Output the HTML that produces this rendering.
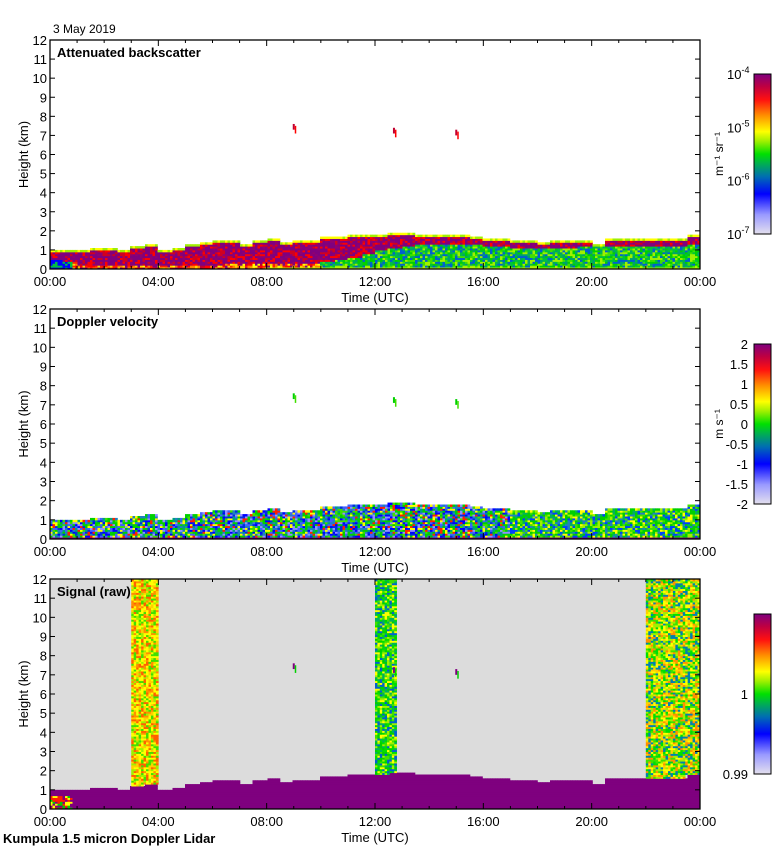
<!DOCTYPE html>
<html><head><meta charset="utf-8">
<style>
html,body{margin:0;padding:0;background:#fff;}
svg{display:block;font-family:"Liberation Sans",sans-serif;}
text{fill:#000;}
</style></head>
<body>
<svg id="chart" width="780" height="850" viewBox="0 0 780 850" xmlns="http://www.w3.org/2000/svg">
<defs>
<linearGradient id="rainbow" x1="0" y1="1" x2="0" y2="0">
<stop offset="0" stop-color="#e4e0ee"/>
<stop offset="0.12" stop-color="#9a9aff"/>
<stop offset="0.25" stop-color="#0000ff"/>
<stop offset="0.36" stop-color="#0070b0"/>
<stop offset="0.44" stop-color="#00b050"/>
<stop offset="0.5" stop-color="#00e000"/>
<stop offset="0.58" stop-color="#a0f000"/>
<stop offset="0.64" stop-color="#ffff00"/>
<stop offset="0.74" stop-color="#ff9000"/>
<stop offset="0.84" stop-color="#ff1010"/>
<stop offset="0.92" stop-color="#c00040"/>
<stop offset="1" stop-color="#7f007f"/>
</linearGradient>
</defs>
<g id="marks"></g>
<g id="axes"></g>
</svg>
<script>
// ---- data (half-hour bins, 00:00 .. 23:30) ----
const hours = [0,0.5,1,1.5,2,2.5,3,3.5,4,4.5,5,5.5,6,6.5,7,7.5,8,8.5,9,9.5,10,10.5,11,11.5,12,12.5,13,13.5,14,14.5,15,15.5,16,16.5,17,17.5,18,18.5,19,19.5,20,20.5,21,21.5,22,22.5,23,23.5];
const cloudTop = [1.0,1.0,1.0,1.1,1.1,1.0,1.2,1.3,1.0,1.1,1.3,1.4,1.5,1.5,1.3,1.5,1.6,1.4,1.5,1.5,1.7,1.7,1.8,1.8,1.8,1.9,1.9,1.8,1.8,1.8,1.8,1.7,1.6,1.6,1.5,1.5,1.4,1.5,1.5,1.5,1.3,1.6,1.6,1.6,1.6,1.6,1.6,1.8];
const denseBase = [0.5,0.4,0.2,0.2,0.2,0.2,0.2,0.2,0.2,0.2,0.2,0.2,0.2,0.3,0.3,0.3,0.3,0.3,0.3,0.3,0.4,0.5,0.6,0.8,1.0,1.1,1.2,1.3,1.3,1.3,1.3,1.3,1.2,1.2,1.1,1.1,1.1,1.1,1.1,1.2,1.3,1.2,1.2,1.2,1.2,1.2,1.2,1.3];
const noiseStart = [3.0,12.0,22.0];
const noiseEnd = [4.0,12.8,24.0];
const elevatedTimes = [9.0,12.7,15.0];
const elevatedHeights = [7.3,7.1,7.0];
const xTicks = ["00:00","04:00","08:00","12:00","16:00","20:00","00:00"];
const yTicks = [0,1,2,3,4,5,6,7,8,9,10,11,12];

const NS="http://www.w3.org/2000/svg";
const marks=document.getElementById('marks'), axes=document.getElementById('axes');
const X0=50, X1=700;
const panels=[{top:40,bot:269},{top:309,bot:539},{top:579,bot:809}];
const xS=h=>X0+h/24*(X1-X0);
const yS=(km,p)=>p.bot-km/12*(p.bot-p.top);
function hash(a,b){let h=(a*374761393+b*668265263)|0;h=(h^(h>>>13))*1274126177|0;return ((h^(h>>>16))>>>0)/4294967296;}
function rect(parent,x,y,w,h,fill,name){const r=document.createElementNS(NS,'rect');r.setAttribute('x',x);r.setAttribute('y',y);r.setAttribute('width',w);r.setAttribute('height',h);r.setAttribute('fill',fill);


parent.appendChild(r);return r;}
function txt(s,x,y,opt){const t=document.createElementNS(NS,'text');t.textContent=s;t.setAttribute('x',x);t.setAttribute('y',y);t.setAttribute('font-size',opt.size||13);if(opt.anchor)t.setAttribute('text-anchor',opt.anchor);if(opt.bold)t.setAttribute('font-weight','bold');if(opt.rot)t.setAttribute('transform',opt.rot);


axes.appendChild(t);return t;}
function line(x1,y1,x2,y2,w){const l=document.createElementNS(NS,'line');l.setAttribute('x1',x1);l.setAttribute('y1',y1);l.setAttribute('x2',x2);l.setAttribute('y2',y2);l.setAttribute('stroke','#000');l.setAttribute('stroke-width',w||1);


axes.appendChild(l);}

const COLS=260, DZ=0.1;
const colW=(X1-X0)/COLS;
const bsDense=['#7f007f','#7f007f','#900070','#d00020','#ff0000','#7f007f'];
const bsLow=['#ff2000','#ff8000','#ffd000','#ff0000','#ffff00','#c00030','#7f007f'];
const bsAer=['#00d000','#40e000','#00a070','#a0f000','#0060d0','#00c040'];
const velCols=['#00d000','#0000ff','#4060ff','#00a080','#9090ff','#00d000','#ffff00','#ff2000','#40e000','#0030e0','#2080c0'];
const velLate=['#00d000','#40e000','#00b060','#0040ff','#00d000','#a0f000','#2080c0','#ffff00'];
const noiseA=['#ffff00','#ffd000','#ff9000','#a0f000','#ffff00','#ff6000','#40e000'];
const noiseB=['#00e000','#40e000','#a0f000','#ffff00','#00b060','#0060d0','#00d000'];
const noiseC=['#00e000','#a0f000','#ffff00','#ff9000','#40e000','#ffd000','#0080b0'];

rect(marks,X0,panels[2].top,X1-X0,panels[2].bot-panels[2].top,'#dcdcdc','signal-background');

for(let c=0;c<COLS;c++){
  const h=(c+0.5)*24/COLS;
  const bi=Math.min(hours.length-1,Math.floor(h*2));
  const T=cloudTop[bi], B=denseBase[bi];
  const nz=Math.round(T/DZ);
  for(let k=0;k<nz;k++){
    const z=k*DZ;
    const r=hash(c,k);
    let col;
    if(k>=nz-1) col=r<0.5?'#a0f000':'#ffff00';
    else if(z>=B) col=bsDense[Math.floor(r*bsDense.length)];
    else if(h<10) col=(h<0.8&&z<0.5)?(r<0.6?'#0000ff':'#00c040'):bsLow[Math.floor(r*bsLow.length)];
    else col=bsAer[Math.floor(r*bsAer.length)];
    if(k===0) col=h>8?'#c0ff00':col;
    const p1=panels[0], p2=panels[1], p3=panels[2];
    const y1=yS(z+DZ,p1), hh=yS(z,p1)-y1+0.5;
    rect(marks,xS(h)-colW/2,y1,colW+0.3,hh,col,'backscatter-cell');
    const vp=h<17?velCols:velLate;
    let vc=vp[Math.floor(hash(c+999,k)*vp.length)];
    if(k===0) vc='#7f007f';
    const y2=yS(z+DZ,p2);
    rect(marks,xS(h)-colW/2,y2,colW+0.3,yS(z,p2)-y2+0.5,vc,'velocity-cell');
    let sc='#7f007f';
    if(h<0.8&&z<0.7) sc=['#ff2000','#00d000','#ffff00','#7f007f'][Math.floor(r*4)];
    const y3=yS(z+DZ,p3);
    rect(marks,xS(h)-colW/2,y3,colW+0.3,yS(z,p3)-y3+0.5,sc,'signal-cell');
  }
}
noiseStart.forEach((s,i)=>{
  const e=noiseEnd[i], pal=[noiseA,noiseB,noiseC][i], p=panels[2];
  const ncol=Math.round((xS(e)-xS(s))/2.5);
  const w=(xS(e)-xS(s))/ncol;
  for(let a=0;a<ncol;a++){
    const h=s+(a+0.5)*(e-s)/ncol;
    const T=cloudTop[Math.min(hours.length-1,Math.floor(h*2))];
    for(let k=Math.round(T/DZ);k<120;k+=1){
      const z=k*DZ, y=yS(z+DZ,p);
      rect(marks,xS(s)+a*w,y,w+0.3,yS(z,p)-y+0.5,pal[Math.floor(hash(a+i*500,k*7+3)*pal.length)],'signal-noise-cell');
    }
  }
});
elevatedTimes.forEach((t,i)=>{
  const zh=elevatedHeights[i];
  [[0,'#c00030','#ff0000'],[1,'#00d000','#40e000'],[2,'#7f007f','#00d000']].forEach(([pi,c1,c2])=>{
    const p=panels[pi];
    rect(marks,xS(t)-1,yS(zh+0.3,p),2,yS(zh,p)-yS(zh+0.3,p),c1,'elevated-cloud');
    rect(marks,xS(t)+1,yS(zh+0.2,p),1.5,yS(zh-0.2,p)-yS(zh+0.2,p),c2,'elevated-cloud');
  });
});

const titles=['Attenuated backscatter','Doppler velocity','Signal (raw)'];
panels.forEach((p,pi)=>{
  const fr=document.createElementNS(NS,'rect');
  fr.setAttribute('x',X0);fr.setAttribute('y',p.top);fr.setAttribute('width',X1-X0);fr.setAttribute('height',p.bot-p.top);
  fr.setAttribute('fill','none');fr.setAttribute('stroke','#000');fr.setAttribute('stroke-width',1.3);
  
  
  axes.appendChild(fr);
  yTicks.forEach(v=>{
    const y=yS(v,p);
    line(X0,y,X0+5,y);line(X1-5,y,X1,y);
    txt(String(v),X0-3,y+5,{anchor:'end',size:13,name:'y-tick-label'});
  });
  xTicks.forEach((s,i)=>{
    const x=xS(i*4);
    line(x,p.bot,x,p.bot-6);line(x,p.top,x,p.top+6);
    txt(s,x,p.bot+17,{anchor:'middle',size:13,name:'x-tick-label'});
  });
  for(let hh=1;hh<24;hh++){if(hh%4){const x=xS(hh);line(x,p.bot,x,p.bot-3);line(x,p.top,x,p.top+3);}}
  txt('Time (UTC)',375,p.bot+33,{anchor:'middle',size:13,name:'x-axis-title'});
  const yc=(p.top+p.bot)/2;
  txt('Height (km)',28,yc,{anchor:'middle',size:13,rot:'rotate(-90 28 '+yc+')',name:'y-axis-title'});
  txt(titles[pi],57,p.top+17,{bold:true,size:13,name:'panel-title'});
});
txt('3 May 2019',53,33,{size:12,name:'date-label'});
txt('Kumpula 1.5 micron Doppler Lidar',3,843,{bold:true,size:13,name:'instrument-label'});

const cbs=[{top:74,bot:234,labels:[['10','-4',0],['10','-5',1/3],['10','-6',2/3],['10','-7',1]]},
{top:344,bot:504,labels:[['2','',0],['1.5','',1/8],['1','',2/8],['0.5','',3/8],['0','',4/8],['-0.5','',5/8],['-1','',6/8],['-1.5','',7/8],['-2','',1]]},
{top:614,bot:774,labels:[['1','',0.5],['0.99','',1]]}];
cbs.forEach(cb=>{
  const r=rect(axes,754,cb.top,17,cb.bot-cb.top,'url(#rainbow)','colorbar');
  r.setAttribute('stroke','#000');r.setAttribute('stroke-width',1);
  cb.labels.forEach(([b,sup,f])=>{
    const y=cb.top+f*(cb.bot-cb.top);
    const t=txt(b,748,y+5,{anchor:'end',size:13,name:'colorbar-tick-label'});
    if(sup){t.textContent='';
      const t1=document.createElementNS(NS,'tspan');t1.textContent=b;t.appendChild(t1);
      const t2=document.createElementNS(NS,'tspan');t2.textContent=sup;t2.setAttribute('font-size',9);t2.setAttribute('dy',-6);t.appendChild(t2);t.setAttribute('x',727);t.setAttribute('text-anchor','start');}
  });
});
txt('m\u207B\u00B9 sr\u207B\u00B9',723,154,{anchor:'middle',size:12,rot:'rotate(-90 723 154)',name:'backscatter-unit'});
txt('m s\u207B\u00B9',723,424,{anchor:'middle',size:12,rot:'rotate(-90 723 424)',name:'velocity-unit'});
</script>
</body></html>
